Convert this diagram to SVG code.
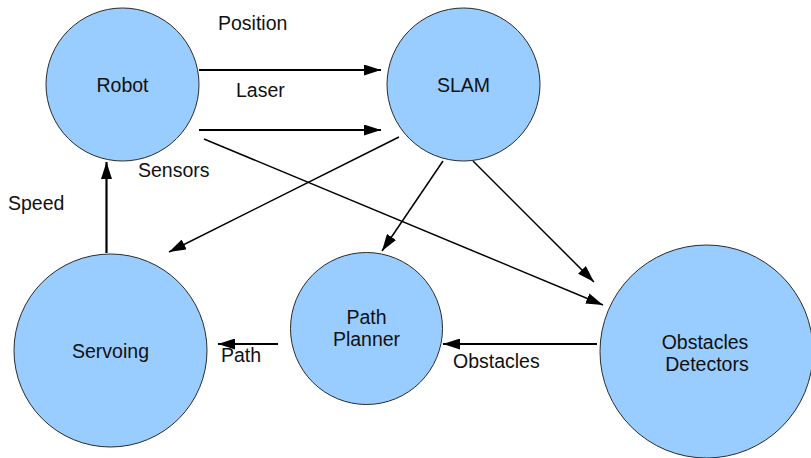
<svg xmlns="http://www.w3.org/2000/svg" width="811" height="458" viewBox="0 0 811 458">
  <style>
    .node circle { fill: #99ccff; stroke: #2b2b2b; stroke-width: 1; }
    text { font-family: "Liberation Sans", Arial, sans-serif; font-size: 19.5px; fill: #111; }
    .c { text-anchor: middle; }
    .edge { stroke: #000; fill: none; marker-end: url(#arrow); }
    .thick { stroke-width: 2.2; }
    .thin { stroke-width: 1.5; }
  </style>
  <defs>
    <marker id="arrow" markerUnits="userSpaceOnUse" viewBox="0 0 17 11" refX="17" refY="5.5" markerWidth="17" markerHeight="11" orient="auto">
      <path d="M0,0 L17,5.5 L0,11 z" fill="#000"/>
    </marker>
  </defs>

  <rect width="811" height="458" fill="#fff"/>

  <!-- connectors -->
  <g id="connectors">
    <line class="edge thick" x1="199" y1="70" x2="381" y2="70"/>
    <line class="edge thick" x1="199" y1="130" x2="381" y2="130"/>
    <line class="edge thin" x1="204" y1="139" x2="603" y2="305"/>
    <line class="edge thin" x1="399" y1="137" x2="169" y2="252"/>
    <line class="edge thin" x1="443" y1="161" x2="382" y2="251"/>
    <line class="edge thin" x1="473" y1="161" x2="594" y2="282"/>
    <line class="edge thick" x1="106.5" y1="253" x2="106.5" y2="162"/>
    <line class="edge thick" x1="278" y1="344" x2="218" y2="344"/>
    <line class="edge thick" x1="597" y1="344" x2="443" y2="344"/>
  </g>

  <!-- connector labels -->
  <g id="labels">
    <text x="218" y="30">Position</text>
    <text x="236" y="97">Laser</text>
    <text x="138" y="177">Sensors</text>
    <text x="8" y="210">Speed</text>
    <text x="221" y="362">Path</text>
    <text x="453" y="368">Obstacles</text>
  </g>

  <!-- nodes -->
  <g id="robot" class="node">
    <circle cx="122.5" cy="84.5" r="76.5"/>
    <text class="c" x="122.5" y="92">Robot</text>
  </g>
  <g id="slam" class="node">
    <circle cx="463.5" cy="84.5" r="76.5"/>
    <text class="c" x="463.5" y="92">SLAM</text>
  </g>
  <g id="servoing" class="node">
    <circle cx="110.5" cy="350.5" r="96.5"/>
    <text class="c" x="110.5" y="358">Servoing</text>
  </g>
  <g id="path-planner" class="node">
    <circle cx="366.5" cy="328.5" r="76"/>
    <text class="c" x="366.5" y="324">Path</text>
    <text class="c" x="366.5" y="345.5">Planner</text>
  </g>
  <g id="obstacles-detectors" class="node">
    <circle cx="706.5" cy="351.5" r="106.5"/>
    <text class="c" x="705" y="349">Obstacles</text>
    <text class="c" x="707" y="371">Detectors</text>
  </g>
</svg>
